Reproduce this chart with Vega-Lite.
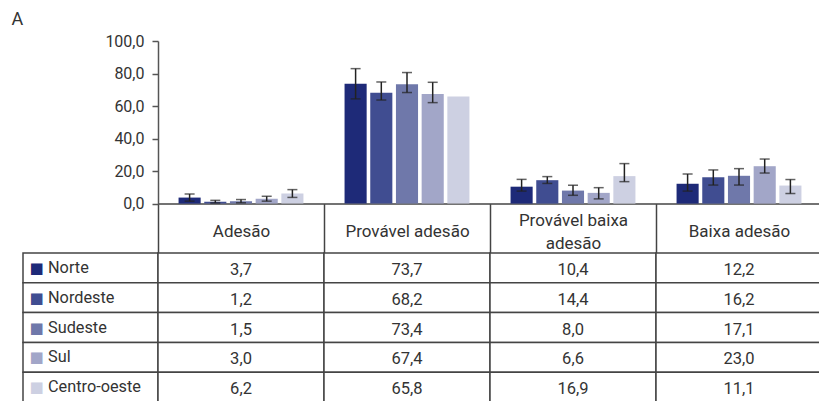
{
  "$schema": "https://vega.github.io/schema/vega-lite/v6.json",
  "padding": {"left": 11, "top": 11, "right": 0, "bottom": 0},
  "background": "white",
  "config": {
    "view": {"stroke": null},
    "font": "Roboto",
    "locale": {"number": {"decimal": ",", "thousands": ".", "grouping": [3], "currency": ["R$", ""]}}
  },
  "datasets": {
    "d": [
      {"cat": "Adesão", "reg": "Norte", "v": 3.7, "lo": 1.5, "hi": 5.9},
      {"cat": "Adesão", "reg": "Nordeste", "v": 1.2, "lo": 0.4, "hi": 2.0},
      {"cat": "Adesão", "reg": "Sudeste", "v": 1.5, "lo": 0.5, "hi": 2.5},
      {"cat": "Adesão", "reg": "Sul", "v": 3.0, "lo": 1.5, "hi": 4.5},
      {"cat": "Adesão", "reg": "Centro-oeste", "v": 6.2, "lo": 3.8, "hi": 8.6},
      {"cat": "Provável adesão", "reg": "Norte", "v": 73.7, "lo": 64.4, "hi": 83.0},
      {"cat": "Provável adesão", "reg": "Nordeste", "v": 68.2, "lo": 63.7, "hi": 74.8},
      {"cat": "Provável adesão", "reg": "Sudeste", "v": 73.4, "lo": 68.3, "hi": 80.6},
      {"cat": "Provável adesão", "reg": "Sul", "v": 67.4, "lo": 62.1, "hi": 74.6},
      {"cat": "Provável adesão", "reg": "Centro-oeste", "v": 65.8, "lo": null, "hi": null},
      {"cat": "Provável baixa adesão", "reg": "Norte", "v": 10.4, "lo": 7.7, "hi": 14.9},
      {"cat": "Provável baixa adesão", "reg": "Nordeste", "v": 14.4, "lo": 12.4, "hi": 16.6},
      {"cat": "Provável baixa adesão", "reg": "Sudeste", "v": 8.0, "lo": 5.1, "hi": 11.3},
      {"cat": "Provável baixa adesão", "reg": "Sul", "v": 6.6, "lo": 2.9, "hi": 9.8},
      {"cat": "Provável baixa adesão", "reg": "Centro-oeste", "v": 16.9, "lo": 13.5, "hi": 24.6},
      {"cat": "Baixa adesão", "reg": "Norte", "v": 12.2, "lo": 7.7, "hi": 18.2},
      {"cat": "Baixa adesão", "reg": "Nordeste", "v": 16.2, "lo": 11.4, "hi": 20.7},
      {"cat": "Baixa adesão", "reg": "Sudeste", "v": 17.1, "lo": 11.4, "hi": 21.5},
      {"cat": "Baixa adesão", "reg": "Sul", "v": 23.0, "lo": 18.8, "hi": 27.4},
      {"cat": "Baixa adesão", "reg": "Centro-oeste", "v": 11.1, "lo": 6.2, "hi": 14.8}
    ]
  },
  "bounds": "flush",
  "columns": 2,
  "spacing": {"row": 49, "column": 0},
  "concat": [
    {
      "width": 135,
      "height": 162.6,
      "data": {"values": [{}]},
      "mark": {"type": "point", "opacity": 0},
      "title": {"text": "A", "anchor": "start", "frame": "group", "fontSize": 18, "fontWeight": "normal", "color": "#333", "dx": -11.5, "offset": -2, "baseline": "alphabetic"}
    },
    {
      "width": 664,
      "height": 162.6,
      "data": {"name": "d"},
      "encoding": {
        "x": {
          "field": "cat", "type": "nominal", "title": null,
          "scale": {"domain": ["Adesão", "Provável adesão", "Provável baixa adesão", "Baixa adesão"], "paddingInner": 0, "paddingOuter": 0},
          "axis": {
            "labelAngle": 0, "tickBand": "extent", "tickSize": 49.2, "tickWidth": 1.5, "tickColor": "#444",
            "domainColor": "#444", "domainWidth": 1.5, "labelFontSize": 17, "labelColor": "#333",
            "labelBaseline": "middle", "labelPadding": -32.5, "labelLineHeight": 11.5, "labelLimit": 0,
            "labelExpr": "datum.label == 'Provável baixa adesão' ? ['Provável baixa', '\u200b', 'adesão'] : ['\u200b', datum.label]"
          }
        },
        "xOffset": {
          "field": "reg", "type": "nominal",
          "scale": {"domain": ["Norte", "Nordeste", "Sudeste", "Sul", "Centro-oeste"], "paddingInner": 0.14, "paddingOuter": 0.8}
        }
      },
      "layer": [
        {
          "mark": {"type": "bar"},
          "encoding": {
            "y": {
              "field": "v", "type": "quantitative", "title": null,
              "scale": {"domain": [0, 100], "nice": false},
              "axis": {"values": [0, 20, 40, 60, 80, 100], "tickCount": 10, "format": ".1f", "labelOverlap": false, "labelFlush": false, "labelFontSize": 16, "labelColor": "#333", "tickSize": 6, "tickColor": "#555", "tickWidth": 1.5, "domainColor": "#555", "domainWidth": 1.5, "labelPadding": 8, "grid": false}
            },
            "color": {
              "field": "reg", "type": "nominal", "legend": null,
              "scale": {"domain": ["Norte", "Nordeste", "Sudeste", "Sul", "Centro-oeste"], "range": ["#1e2a78", "#404d91", "#6f78aa", "#a2a6c8", "#cdd0e2"]}
            }
          }
        },
        {
          "transform": [{"filter": "datum.lo != null"}],
          "mark": {"type": "rule", "color": "#222", "strokeWidth": 1.5},
          "encoding": {"y": {"field": "lo", "type": "quantitative", "title": null}, "y2": {"field": "hi"}}
        },
        {
          "transform": [{"filter": "datum.lo != null"}],
          "mark": {"type": "tick", "color": "#222", "thickness": 1.5, "size": 10},
          "encoding": {"y": {"field": "lo", "type": "quantitative", "title": null}}
        },
        {
          "transform": [{"filter": "datum.hi != null"}],
          "mark": {"type": "tick", "color": "#222", "thickness": 1.5, "size": 10},
          "encoding": {"y": {"field": "hi", "type": "quantitative", "title": null}}
        }
      ]
    },
    {
      "width": 135,
      "height": 149,
      "data": {"name": "d"},
      "transform": [{"filter": "datum.cat == 'Adesão'"}],
      "mark": {"type": "rect", "fill": "white", "stroke": "#444", "strokeWidth": 1.5},
      "encoding": {
        "y": {
          "field": "reg", "type": "nominal", "title": null,
          "scale": {"domain": ["Norte", "Nordeste", "Sudeste", "Sul", "Centro-oeste"], "paddingInner": 0, "paddingOuter": 0},
          "axis": {
            "domain": false, "ticks": false, "grid": false, "zindex": 1,
            "labelExpr": "'■'", "labelAlign": "left", "labelPadding": -6, "labelFontSize": 15, "labelFont": "DejaVu Sans",
            "labelColor": {
              "condition": [
                {"test": "datum.value == 'Norte'", "value": "#1e2a78"},
                {"test": "datum.value == 'Nordeste'", "value": "#404d91"},
                {"test": "datum.value == 'Sudeste'", "value": "#6f78aa"},
                {"test": "datum.value == 'Sul'", "value": "#a2a6c8"}
              ],
              "value": "#cdd0e2"
            }
          }
        }
      }
    },
    {
      "width": 664,
      "height": 149,
      "data": {"name": "d"},
      "encoding": {
        "x": {
          "field": "cat", "type": "nominal", "axis": null,
          "scale": {"domain": ["Adesão", "Provável adesão", "Provável baixa adesão", "Baixa adesão"], "paddingInner": 0, "paddingOuter": 0}
        },
        "y": {
          "field": "reg", "type": "nominal", "title": null,
          "scale": {"domain": ["Norte", "Nordeste", "Sudeste", "Sul", "Centro-oeste"], "paddingInner": 0, "paddingOuter": 0},
          "axis": {"domain": false, "ticks": false, "grid": false, "zindex": 1, "labelAlign": "left", "labelPadding": 110.5, "labelFontSize": 16.3, "labelColor": "#333"}
        }
      },
      "layer": [
        {"mark": {"type": "rect", "fill": "white", "stroke": "#444", "strokeWidth": 1.5}},
        {
          "mark": {"type": "text", "fontSize": 16.5, "color": "#333", "dy": 2},
          "encoding": {"text": {"field": "v", "type": "quantitative", "format": ".1f"}}
        }
      ]
    }
  ]
}
